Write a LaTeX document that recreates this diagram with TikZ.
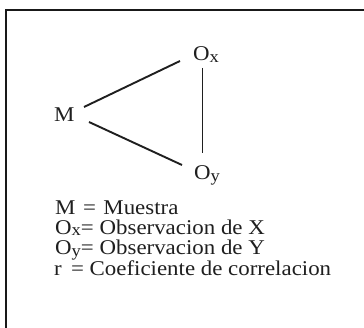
\documentclass[tikz,border=0pt]{standalone}
\usepackage{fontspec}
\setmainfont{Liberation Serif}[FakeStretch=1.09]
\newcommand\subx[1]{\raisebox{-1.5pt}{\fontsize{17}{17}\selectfont #1}}
\newcommand\suby[1]{\raisebox{-2pt}{\fontsize{17}{17}\selectfont #1}}
\begin{document}
\begin{tikzpicture}[x=1pt,y=-1pt,
  lbl/.style={inner sep=0pt, anchor=base west, font=\fontsize{21}{21}\selectfont, text=black!88},
  conn/.style={line width=1.9pt, draw=black!88}]
\useasboundingbox (0,0) rectangle (364,328);
\clip (0,0) rectangle (364,328);
\fill[white] (0,0) rectangle (364,328);
\draw[line width=2pt, draw=black!90] (6.2,10) rectangle (400,360);
% diagram labels
\node[lbl] (M) at (54,122) {M};
\node[lbl] (Ox) at (193,61) {O\subx{x}};
\node[lbl] (Oy) at (194,180) {O\subx{y}};
% connector ends
\coordinate (m1) at (84,107);
\coordinate (x1) at (180,61);
\coordinate (m2) at (89,122);
\coordinate (y1) at (182,165);
\coordinate (x2) at (202.5,68);
\coordinate (y2) at (202.5,153);
\draw[conn] (m1) -- (x1);
\draw[conn] (m2) -- (y1);
\draw[conn] (x2) -- (y2);
% legend
\node[lbl] (l1) at (55,214.5) {M\hspace{7.5pt}=\hspace{7.5pt}Muestra};
\node[lbl] (l2) at (55,234.5) {O\subx{x}= Observacion de X};
\node[lbl] (l3) at (55,255) {O\suby{y}= Observacion de Y};
\node[lbl] (l4) at (54,275.5) {r \,= Coeficiente de correlacion};
\end{tikzpicture}
\end{document}
